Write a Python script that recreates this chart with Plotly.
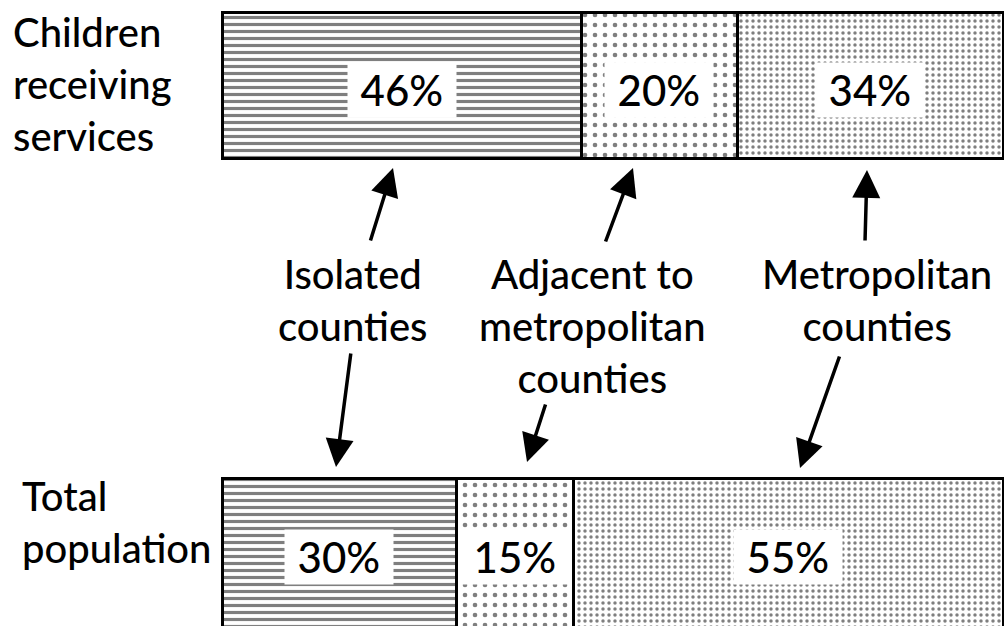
import plotly.graph_objects as go

# ---- data ----
groups = ["Isolated counties", "Adjacent to metropolitan counties", "Metropolitan counties"]
group_labels = ["Isolated<br>counties", "Adjacent to<br>metropolitan<br>counties", "Metropolitan<br>counties"]
rows = ["Children receiving services", "Total population"]
row_labels = ["Children<br>receiving<br>services", "Total<br>population"]
row_pos = [1, 0]
children_pct = [46, 20, 34]
population_pct = [30, 15, 55]

W, H = 1004, 626
FONT = "Lato"

patterns = [
    dict(shape="-", size=7, solidity=0.45, fgcolor="black", bgcolor="white"),
    dict(shape=".", size=10, solidity=0.17, fgcolor="black", bgcolor="white"),
    dict(shape=".", size=6, solidity=0.26, fgcolor="black", bgcolor="white"),
]

# axis mapping: 0% at x=222px, 100% at x=1003px; rows centred at 85px and 557px
px_per_pct = 7.81
x0_px = 222
y_top_px, y_bot_px = 85, 557
px_per_row = y_bot_px - y_top_px
bar_widths = [146 / px_per_row, 158 / px_per_row]

fig = go.Figure()
for i, g in enumerate(groups):
    fig.add_trace(go.Bar(
        y=row_pos,
        x=[children_pct[i], population_pct[i]],
        orientation="h",
        name=g,
        width=bar_widths,
        marker=dict(color="white", pattern=patterns[i],
                    line=dict(color="black", width=3)),
        hoverinfo="skip",
        showlegend=False,
    ))

annotations = []
# percentage labels at segment centres
for vals, yv, dy in [(children_pct, row_pos[0], 0.01), (population_pct, row_pos[1], 0.0)]:
    cum = 0
    for v in vals:
        annotations.append(dict(
            x=cum + v / 2, y=yv - dy, xref="x", yref="y",
            text="\u00a0" + f"{v}%" + "\u00a0", showarrow=False,
            font=dict(family=FONT, size=42, color="black", weight=500),
            bgcolor="white", borderpad=2,
            xanchor="center", yanchor="middle",
        ))
        cum += v

def px(xp): return xp / W
def py(yp): return 1 - yp / H

lab_font = dict(family=FONT, size=40, color="black", weight=500)

# row labels
annotations.append(dict(x=px(11), y=py(84), xref="paper", yref="paper",
                        text=row_labels[0], showarrow=False, align="left",
                        xanchor="left", yanchor="middle", font=lab_font))
annotations.append(dict(x=px(20), y=py(522), xref="paper", yref="paper",
                        text=row_labels[1], showarrow=False, align="left",
                        xanchor="left", yanchor="middle", font=lab_font))

# group labels
for lbl, (cx, cy) in zip(group_labels, [(352, 300), (592, 326), (877, 300)]):
    annotations.append(dict(x=px(cx), y=py(cy), xref="paper", yref="paper",
                            text=lbl, showarrow=False, align="center",
                            xanchor="center", yanchor="middle", font=lab_font))

# arrows: (head_x, head_y, dx_to_tail, dy_to_tail)
arrows = [(393, 168, -23, 74), (633, 168, -28, 75), (867, 170, -2, 72),
          (336, 467, 15, -115), (527, 462, 19, -59), (800, 468, 40, -113)]
for hx, hy, ax, ay in arrows:
    annotations.append(dict(x=px(hx), y=py(hy), xref="paper", yref="paper",
                            ax=ax, ay=ay, axref="pixel", ayref="pixel",
                            text="", showarrow=True, arrowhead=2,
                            arrowsize=1.6, arrowwidth=3.5, arrowcolor="black",
                            standoff=0, startstandoff=0))

fig.update_layout(
    width=W, height=H,
    margin=dict(l=0, r=0, t=0, b=0),
    paper_bgcolor="white", plot_bgcolor="white",
    barmode="stack",
    xaxis=dict(range=[-x0_px / px_per_pct, (W - x0_px) / px_per_pct],
               visible=False, fixedrange=True),
    yaxis=dict(range=[-(H - y_bot_px) / px_per_row, 1 + y_top_px / px_per_row],
               visible=False, fixedrange=True),
    annotations=annotations,
)

fig.write_html("out.html", config={"displayModeBar": False},
               post_script="document.body.style.margin='0';document.body.style.overflow='hidden';")
